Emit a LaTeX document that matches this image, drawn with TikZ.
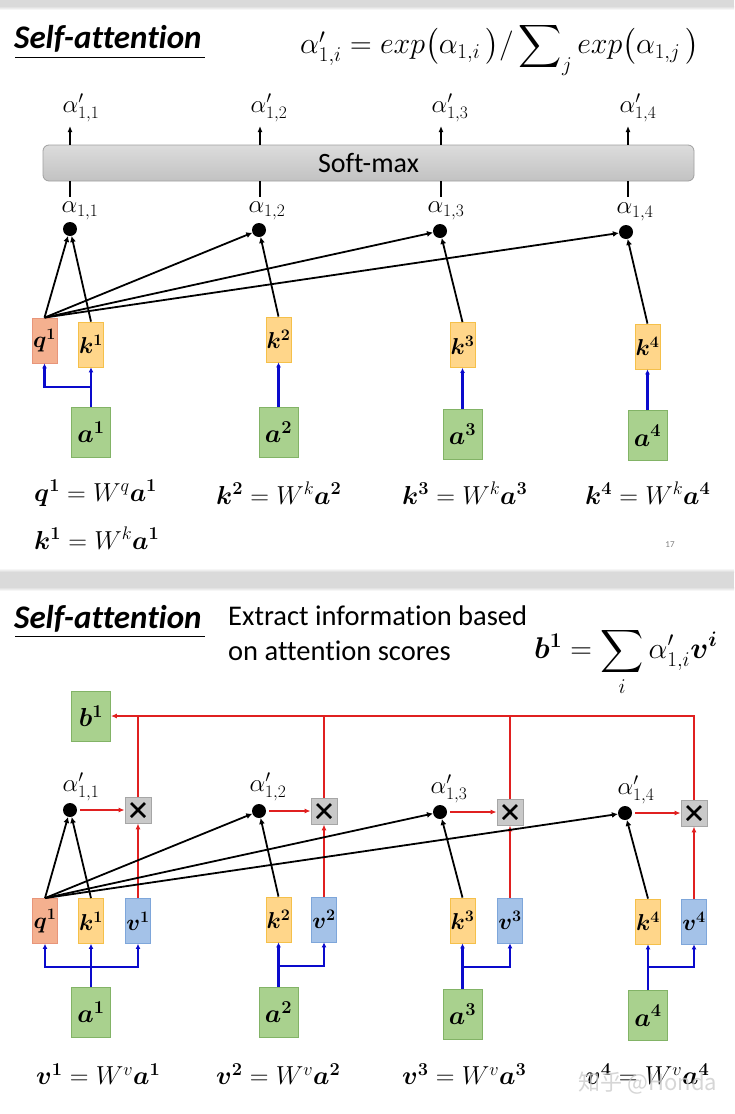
\RequirePackage{fix-cm}
\documentclass[tikz,border=0pt]{standalone}
\usepackage{amsmath,amssymb}
\usepackage{bm}
\usepackage[no-math]{fontspec}
\setmainfont{Carlito}[Ligatures=NoCommon]
\newfontfamily\cjkfont{Noto Sans CJK SC}
\usetikzlibrary{arrows.meta}
\definecolor{qfill}{HTML}{F4B08F}
\definecolor{qdraw}{HTML}{E8957A}
\definecolor{kfill}{HTML}{FFD68A}
\definecolor{kdraw}{HTML}{F5C04A}
\definecolor{vfill}{HTML}{A4C2E8}
\definecolor{vdraw}{HTML}{7EA6DA}
\definecolor{afill}{HTML}{A9D18E}
\definecolor{adraw}{HTML}{82B366}
\definecolor{xfill}{HTML}{C9C9C9}
\definecolor{xdraw}{HTML}{A6A6A6}
\definecolor{smtop}{HTML}{DCDCDC}
\definecolor{smbot}{HTML}{C2C2C2}
\definecolor{smdraw}{HTML}{A0A0A0}
\definecolor{redl}{HTML}{E02020}
\definecolor{bluel}{HTML}{0A0ACC}
\definecolor{band}{HTML}{DADADA}
\begin{document}
\begin{tikzpicture}[x=1pt,y=-1pt,
  vbox/.style={draw, line width=0.8pt, minimum width=25pt, minimum height=45pt, inner sep=0pt,
     font=\fontsize{23}{26}\selectfont},
  qbox/.style={vbox, fill=qfill, draw=qdraw},
  kbox/.style={vbox, fill=kfill, draw=kdraw},
  valbox/.style={vbox, fill=vfill, draw=vdraw},
  abox/.style={draw=adraw, fill=afill, line width=0.8pt, minimum width=39pt, minimum height=50pt, inner sep=0pt,
     font=\fontsize{26}{28}\selectfont},
  dotnode/.style={circle, fill=black, minimum size=14pt, inner sep=0pt},
  mulbox/.style={draw=xdraw, fill=xfill, line width=0.8pt, minimum size=26pt, inner sep=0pt,
     path picture={\draw[black, line width=2.6pt] ([shift={(-7,-7)}]path picture bounding box.center) -- ([shift={(7,7)}]path picture bounding box.center);
                   \draw[black, line width=2.6pt] ([shift={(-7,7)}]path picture bounding box.center) -- ([shift={(7,-7)}]path picture bounding box.center);}},
  lab/.style={font=\fontsize{25}{28}\selectfont, inner sep=1pt},
  eqn/.style={font=\fontsize{26}{30}\selectfont, inner sep=0pt},
  blk/.style={line width=1.8pt, -{Latex[length=6pt,width=6pt]}},
  blu/.style={line width=2.2pt, color=bluel},
  bluarr/.style={blu, -{Latex[length=5pt,width=5pt]}},
  redln/.style={line width=1.8pt, color=redl},
  redarr/.style={redln, -{Latex[length=6pt,width=5pt]}},
  title/.style={font=\fontsize{33}{36}\selectfont\bfseries\itshape, inner sep=0pt, anchor=base west},
]
\useasboundingbox (0,0) rectangle (734,1114);
\fill[white] (0,0) rectangle (734,1114);
% bands
\fill[band] (0,0) rectangle (734,6);
\shade[top color=band, bottom color=white] (0,6) rectangle (734,10);
\fill[band] (0,572) rectangle (734,587);
\shade[top color=white, bottom color=band] (0,568) rectangle (734,572);
\shade[top color=band, bottom color=white] (0,587) rectangle (734,591);

% ================= TOP PANEL =================
\node[title] (t1) at (14,48) {Self-attention};
\draw[line width=1pt] (15,57) -- (205,57);
\node[eqn, font=\fontsize{30}{34}\selectfont, anchor=west] (f1) at (300,49)
  {$\alpha'_{1,i}=exp\big(\alpha_{1,i}\,\big)/\displaystyle\sum\nolimits_j exp\big(\alpha_{1,j}\,\big)$};

\node[draw=smdraw, line width=0.8pt, rounded corners=6pt, top color=smtop, bottom color=smbot,
      minimum width=651pt, minimum height=36pt, inner sep=0pt,
      font=\fontsize{28}{30}\selectfont] (sm) at (368.5,163) {Soft-max};

% dots
\node[dotnode] (d1) at (70,229) {};
\node[dotnode] (d2) at (259,230) {};
\node[dotnode] (d3) at (440,231) {};
\node[dotnode] (d4) at (626,232) {};

% alpha labels
\node[lab] (l1) at (80,211) {$\alpha_{1,1}$};
\node[lab] (l2) at (267,211) {$\alpha_{1,2}$};
\node[lab] (l3) at (446,211) {$\alpha_{1,3}$};
\node[lab] (l4) at (635,212) {$\alpha_{1,4}$};
\node[lab] (p1) at (81,108) {$\alpha'_{1,1}$};
\node[lab] (p2) at (269,108) {$\alpha'_{1,2}$};
\node[lab] (p3) at (450,108) {$\alpha'_{1,3}$};
\node[lab] (p4) at (638,108) {$\alpha'_{1,4}$};

\coordinate (s1) at (70,197);
\coordinate (s2) at (260,197);
\coordinate (s3) at (441,197);
\coordinate (s4) at (628,197);
\coordinate (u1) at (70,126);
\coordinate (u2) at (260,126);
\coordinate (u3) at (441,126);
\coordinate (u4) at (628,126);
\foreach \i in {1,2,3,4}{
  \draw[line width=1.6pt] (sm.south -| s\i) -- (s\i);
  \draw[line width=1.6pt, -{Latex[length=6pt,width=5pt]}] (sm.north -| u\i) -- (u\i);
}

% vectors
\node[qbox] (q1) at (44.5,340.5) {$\bm{q^{1}}$};
\node[kbox] (k1) at (91,344.5) {$\bm{k^{1}}$};
\node[kbox] (k2) at (278.5,339.5) {$\bm{k^{2}}$};
\node[kbox] (k3) at (462.5,345) {$\bm{k^{3}}$};
\node[kbox] (k4) at (647.5,346.5) {$\bm{k^{4}}$};
\node[abox] (a1) at (91,432) {$\bm{a^{1}}$};
\node[abox] (a2) at (278.5,432) {$\bm{a^{2}}$};
\node[abox] (a3) at (462.5,434) {$\bm{a^{3}}$};
\node[abox] (a4) at (647.5,435.5) {$\bm{a^{4}}$};

% blue
\draw[bluarr] (a1.north) -- (k1.south);
\coordinate (j1) at (91,387);
\draw[bluarr] (j1) -| (q1.south);
\draw[bluarr] (a2.north) -- (k2.south);
\draw[bluarr] (a3.north) -- (k3.south);
\draw[bluarr] (a4.north) -- (k4.south);

% black
\foreach \d in {d1,d2,d3,d4} \draw[blk] (q1.north) -- (\d);
\draw[blk] (k1.north) -- (d1);
\draw[blk] (k2.north) -- (d2);
\draw[blk] (k3.north) -- (d3);
\draw[blk] (k4.north) -- (d4);

% equations
\node[eqn, anchor=west] (e1) at (34,493) {$\bm{q^{1}}=W^{q}\bm{a^{1}}$};
\node[eqn, anchor=west] (e2) at (34,538) {$\bm{k^{1}}=W^{k}\bm{a^{1}}$};
\node[eqn, anchor=west] (e3) at (216,493) {$\bm{k^{2}}=W^{k}\bm{a^{2}}$};
\node[eqn, anchor=west] (e4) at (402,493) {$\bm{k^{3}}=W^{k}\bm{a^{3}}$};
\node[eqn, anchor=west] (e5) at (585,493) {$\bm{k^{4}}=W^{k}\bm{a^{4}}$};
\node[font=\fontsize{9}{10}\selectfont, text=gray] (pg) at (670,545) {17};

% ================= BOTTOM PANEL =================
\node[title] (t2) at (14,628) {Self-attention};
\draw[line width=1pt] (15,636) -- (205,636);
\node[font=\fontsize{28.5}{35}\selectfont, align=left, anchor=north west, inner sep=0pt] (ex) at (228,606)
  {Extract information based\\on attention scores};
\node[eqn, font=\fontsize{30}{34}\selectfont, anchor=west] (f2) at (534,662)
  {$\bm{b^{1}}=\displaystyle\sum_i \alpha'_{1,i}\bm{v^{i}}$};

\node[abox] (b1) at (91,716) {$\bm{b^{1}}$};

\node[dotnode] (e1d) at (70,810) {};
\node[dotnode] (e2d) at (259,811) {};
\node[dotnode] (e3d) at (440,812) {};
\node[dotnode] (e4d) at (625,813) {};
\node[lab] (m1) at (81,787) {$\alpha'_{1,1}$};
\node[lab] (m2) at (268,787) {$\alpha'_{1,2}$};
\node[lab] (m3) at (449,789) {$\alpha'_{1,3}$};
\node[lab] (m4) at (636,790) {$\alpha'_{1,4}$};

\node[mulbox] (x1) at (138,810) {};
\node[mulbox] (x2) at (324,811) {};
\node[mulbox] (x3) at (510,812) {};
\node[mulbox] (x4) at (694,813) {};

\node[qbox] (q1b) at (45,921) {$\bm{q^{1}}$};
\node[kbox] (k1b) at (91,921) {$\bm{k^{1}}$};
\node[valbox] (v1b) at (138,921) {$\bm{v^{1}}$};
\node[kbox] (k2b) at (278.5,919.5) {$\bm{k^{2}}$};
\node[valbox] (v2b) at (324,919.5) {$\bm{v^{2}}$};
\node[kbox] (k3b) at (462.5,920.5) {$\bm{k^{3}}$};
\node[valbox] (v3b) at (510,920.5) {$\bm{v^{3}}$};
\node[kbox] (k4b) at (648,921.5) {$\bm{k^{4}}$};
\node[valbox] (v4b) at (694,921.5) {$\bm{v^{4}}$};
\node[abox] (a1b) at (91,1012) {$\bm{a^{1}}$};
\node[abox] (a2b) at (278.5,1012) {$\bm{a^{2}}$};
\node[abox] (a3b) at (462.5,1014) {$\bm{a^{3}}$};
\node[abox] (a4b) at (648,1015.5) {$\bm{a^{4}}$};

% blue
\draw[bluarr] (a1b.north) -- (k1b.south);
\coordinate (g1) at (91,967);
\draw[bluarr] (g1) -| (q1b.south);
\draw[bluarr] (g1) -| (v1b.south);
\draw[bluarr] (a2b.north) -- (k2b.south);
\coordinate (g2) at (278.5,966);
\draw[bluarr] (g2) -| (v2b.south);
\draw[bluarr] (a3b.north) -- (k3b.south);
\coordinate (g3) at (462.5,967);
\draw[bluarr] (g3) -| (v3b.south);
\draw[bluarr] (a4b.north) -- (k4b.south);
\coordinate (g4) at (648,967);
\draw[bluarr] (g4) -| (v4b.south);

% red
\coordinate (r4) at (694,716);
\draw[redarr] (x4.north) -- (r4) -- (b1.east);
\foreach \x in {x1,x2,x3} \draw[redln] (\x.north) -- (\x.north |- r4);
\draw[redarr, shorten <=3pt] (e1d.east) -- (x1.west);
\draw[redarr, shorten <=3pt] (e2d.east) -- (x2.west);
\draw[redarr, shorten <=3pt] (e3d.east) -- (x3.west);
\draw[redarr, shorten <=3pt] (e4d.east) -- (x4.west);
\draw[redarr] (v1b.north) -- (x1.south);
\draw[redarr] (v2b.north) -- (x2.south);
\draw[redarr] (v3b.north) -- (x3.south);
\draw[redarr] (v4b.north) -- (x4.south);

% black
\foreach \d in {e1d,e2d,e3d,e4d} \draw[blk] (q1b.north) -- (\d);
\draw[blk] (k1b.north) -- (e1d);
\draw[blk] (k2b.north) -- (e2d);
\draw[blk] (k3b.north) -- (e3d);
\draw[blk] (k4b.north) -- (e4d);

% equations
\node[eqn, anchor=west] (w1) at (36,1074) {$\bm{v^{1}}=W^{v}\bm{a^{1}}$};
\node[eqn, anchor=west] (w2) at (216,1074) {$\bm{v^{2}}=W^{v}\bm{a^{2}}$};
\node[eqn, anchor=west] (w3) at (402,1074) {$\bm{v^{3}}=W^{v}\bm{a^{3}}$};
\node[eqn, anchor=west] (w4) at (585,1074) {$\bm{v^{4}}=W^{v}\bm{a^{4}}$};
\node[font=\cjkfont\fontsize{22}{24}\selectfont, text=gray!40, opacity=0.8] (wm) at (648,1083) {知乎 @Honda};
\end{tikzpicture}
\end{document}
